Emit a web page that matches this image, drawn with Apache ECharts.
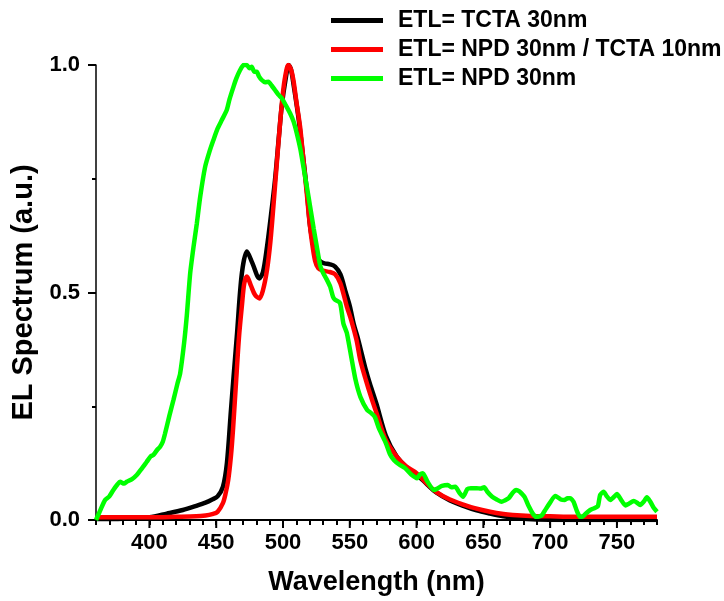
<!DOCTYPE html>
<html>
<head>
<meta charset="utf-8">
<script src="https://cdn.jsdelivr.net/npm/echarts@6/dist/echarts.min.js"></script>
<style>
  html, body { margin: 0; padding: 0; background: #fff; }
  #chart { width: 724px; height: 601px; }
</style>
</head>
<body>
<div id="chart"></div>
<script>
// Electroluminescence spectra for three electron-transport layers

const seriesNames = [
  'ETL= TCTA 30nm',
  'ETL= NPD 30nm / TCTA 10nm',
  'ETL= NPD 30nm'
];

// TCTA 30nm
const wlTCTA = [360, 380, 400, 413, 425, 435, 442, 447, 451, 455, 458, 461, 463, 465.4, 469.2, 473, 477, 482.3, 485, 488,
  491, 494, 497, 499, 502, 504.3, 506, 508, 511.5, 515, 518, 520.3, 523, 525, 528, 531, 535, 539, 543, 547,
  550, 553, 556, 559, 562, 565, 570, 577, 585, 593, 600, 608, 615, 625, 635, 645, 655, 665, 675, 690,
  710, 740, 780];
const elTCTA = [0.002, 0.003, 0.006, 0.014, 0.022, 0.031, 0.038, 0.045, 0.052, 0.073, 0.125, 0.24, 0.315, 0.403, 0.542, 0.59, 0.565, 0.531, 0.545, 0.6,
  0.67, 0.747, 0.845, 0.908, 0.97, 1.0, 0.99, 0.955, 0.886, 0.8, 0.72, 0.645, 0.6, 0.579, 0.568, 0.564, 0.562, 0.557, 0.54, 0.5,
  0.47, 0.43, 0.4, 0.365, 0.33, 0.3, 0.255, 0.185, 0.14, 0.115, 0.1, 0.078, 0.06, 0.043, 0.031, 0.021, 0.014, 0.008, 0.004, 0.001,
  0.0, 0.0, 0.0];

// NPD 30nm / TCTA 10nm
const wlNPDTCTA = [360, 380, 400, 420, 435, 442, 447, 451, 455, 457, 459, 461, 462.6, 465, 467, 469.2, 471, 473, 476, 479,
  482.3, 485, 488, 490.5, 492.8, 495, 497.8, 500, 501.6, 504, 506, 507.8, 510, 512.8, 515, 517.8, 519.5, 521.5, 524, 526.5,
  530, 535, 539, 543, 547.8, 551, 555, 558, 562, 566, 570, 577, 585, 592, 600, 607, 614.6, 625, 635, 643.5,
  655, 665, 672, 685, 700, 720, 750, 780];
const elNPDTCTA = [0.006, 0.006, 0.006, 0.007, 0.008, 0.01, 0.013, 0.018, 0.037, 0.058, 0.088, 0.14, 0.2, 0.31, 0.4, 0.47, 0.52, 0.535, 0.515, 0.495,
  0.487, 0.505, 0.549, 0.61, 0.689, 0.77, 0.872, 0.94, 0.974, 1.0, 0.99, 0.967, 0.92, 0.864, 0.8, 0.718, 0.665, 0.615, 0.57, 0.553,
  0.548, 0.545, 0.54, 0.52, 0.469, 0.44, 0.396, 0.35, 0.308, 0.27, 0.235, 0.176, 0.14, 0.118, 0.103, 0.082, 0.062, 0.045, 0.034, 0.026,
  0.018, 0.013, 0.011, 0.009, 0.008, 0.007, 0.007, 0.007];

// NPD 30nm
const wlNPD = [360, 363, 366.8, 370, 373, 376, 378, 381, 383, 387, 390.5, 394, 398, 401, 403, 406, 408, 410, 411.7, 415,
  418, 421, 423, 426, 428, 430.5, 433, 435.5, 438, 441.7, 445, 447.9, 451, 454.2, 457.9, 460, 462.9, 465, 467.9, 470.5,
  472.9, 475, 476.6, 478.5, 480.4, 482, 484.1, 486.5, 489.1, 491.5, 494, 496.5, 499.1, 502, 505.3, 508, 510.3, 513, 515.3, 518,
  520.3, 523, 525.3, 527.8, 530.2, 532.5, 535.3, 537.5, 539, 542.7, 545.2, 547.8, 551, 554.3, 558, 563, 566, 568.7, 572, 577,
  580, 583, 587, 591.4, 596, 600.4, 602.5, 604.7, 608, 613, 616, 619, 623.4, 626, 629, 632, 634.8, 638, 640.7, 645,
  648, 650.6, 653, 656.6, 660, 663.7, 666, 669, 672, 674.5, 677, 679, 681, 684, 687, 689.5, 692, 694, 697, 699.7,
  703.7, 705.2, 708, 711, 713, 715, 717.5, 720, 722.4, 724, 727, 730, 733, 735.7, 737.4, 740, 742.5, 745, 747.5, 750,
  753, 756.4, 759, 762.6, 765, 767.4, 770, 772.4, 775, 777.5, 780];
const elNPD = [0.0, 0.02, 0.044, 0.052, 0.066, 0.078, 0.084, 0.08, 0.084, 0.09, 0.099, 0.112, 0.128, 0.14, 0.143, 0.155, 0.161, 0.172, 0.19, 0.23,
  0.264, 0.3, 0.322, 0.39, 0.45, 0.542, 0.6, 0.652, 0.71, 0.776, 0.81, 0.835, 0.86, 0.879, 0.901, 0.925, 0.952, 0.97, 0.989, 1.0,
  1.0, 0.993, 0.996, 0.985, 0.985, 0.975, 0.967, 0.962, 0.963, 0.955, 0.945, 0.935, 0.927, 0.912, 0.894, 0.875, 0.85, 0.815, 0.776, 0.73,
  0.689, 0.64, 0.601, 0.56, 0.542, 0.53, 0.513, 0.49, 0.484, 0.477, 0.432, 0.411, 0.36, 0.308, 0.27, 0.242, 0.235, 0.227, 0.2, 0.169,
  0.145, 0.132, 0.122, 0.114, 0.1, 0.092, 0.1, 0.103, 0.085, 0.066, 0.07, 0.075, 0.077, 0.072, 0.073, 0.06, 0.051, 0.068, 0.07, 0.07,
  0.069, 0.072, 0.062, 0.051, 0.045, 0.04, 0.043, 0.048, 0.06, 0.066, 0.063, 0.057, 0.05, 0.03, 0.014, 0.007, 0.008, 0.011, 0.025, 0.037,
  0.053, 0.051, 0.045, 0.044, 0.048, 0.048, 0.04, 0.02, 0.007, 0.007, 0.015, 0.022, 0.026, 0.03, 0.055, 0.062, 0.052, 0.044, 0.05, 0.057,
  0.045, 0.032, 0.036, 0.042, 0.038, 0.033, 0.04, 0.05, 0.04, 0.027, 0.018];

// Axis ticks: labelled majors every 50 nm, minors every 10 nm from the axis start
const xLabelValues = [400, 450, 500, 550, 600, 650, 700, 750];
const xMin = 360;
const xMax = 780;
const xMinorStep = 10;

const pairs = (xs, ys) => xs.map((x, i) => [x, ys[i]]);

const FONT = '"Liberation Sans", Arial, sans-serif';
const colors = ['#000000', '#ff0000', '#00ff00'];

const chart = echarts.init(document.getElementById('chart'), null, { renderer: 'canvas' });

const lineSeries = (name, data, color, smooth) => ({
  name: name,
  type: 'line',
  data: data,
  showSymbol: false,
  smooth: smooth,
  color: color,
  lineStyle: { color: color, width: 4.5 },
  animation: false
});

chart.setOption({
  animation: false,
  grid: { left: 96, right: 67, top: 65, bottom: 81, containLabel: false },
  legend: {
    orient: 'vertical',
    left: 331,
    top: 6,
    padding: 0,
    itemGap: 0,
    itemWidth: 52,
    itemHeight: 5,
    icon: 'rect',
    data: seriesNames,
    textStyle: {
      fontFamily: FONT,
      fontWeight: 'bold',
      fontSize: 23,
      color: '#000',
      lineHeight: 29,
      padding: [0, 0, 0, 10]
    }
  },
  xAxis: {
    type: 'value',
    min: xMin,
    max: xMax,
    interval: xMinorStep,
    name: 'Wavelength (nm)',
    nameLocation: 'middle',
    nameGap: 49,
    nameTextStyle: { fontFamily: FONT, fontWeight: 'bold', fontSize: 27, color: '#000' },
    axisLine: { show: true, onZero: false, lineStyle: { color: '#000', width: 2 } },
    axisTick: { show: true, inside: false, length: 5, lineStyle: { color: '#000', width: 2 } },
    axisLabel: {
      margin: 12,
      formatter: v => (xLabelValues.indexOf(v) >= 0 ? String(v) : ''),
      fontFamily: FONT, fontWeight: 'bold', fontSize: 22, color: '#000'
    },
    splitLine: { show: false }
  },
  yAxis: {
    type: 'value',
    min: 0,
    max: 1,
    interval: 0.5,
    name: 'EL Spectrum (a.u.)',
    nameLocation: 'middle',
    nameGap: 54,
    nameTextStyle: { fontFamily: FONT, fontWeight: 'bold', fontSize: 29, color: '#000' },
    axisLine: { show: true, onZero: false, lineStyle: { color: '#000', width: 1.5 } },
    axisTick: { show: true, inside: false, length: 8, lineStyle: { color: '#000', width: 2 } },
    minorTick: { show: true, splitNumber: 2, length: 4, lineStyle: { color: '#000', width: 2 } },
    axisLabel: {
      margin: 16,
      formatter: v => v.toFixed(1),
      fontFamily: FONT, fontWeight: 'bold', fontSize: 22, color: '#000'
    },
    splitLine: { show: false },
    minorSplitLine: { show: false }
  },
  series: [
    lineSeries(seriesNames[0], pairs(wlTCTA, elTCTA), colors[0], 0.3),
    lineSeries(seriesNames[1], pairs(wlNPDTCTA, elNPDTCTA), colors[1], 0.3),
    lineSeries(seriesNames[2], pairs(wlNPD, elNPD), colors[2], 0.2)
  ]
});

// Longer ticks at the labelled wavelengths, placed through the axis scales
const y0 = chart.convertToPixel({ yAxisIndex: 0 }, 0);
chart.setOption({
  graphic: xLabelValues.map(v => {
    const px = chart.convertToPixel({ xAxisIndex: 0 }, v);
    return {
      type: 'line',
      silent: true,
      z: 10,
      shape: { x1: px, y1: y0, x2: px, y2: y0 + 8 },
      style: { stroke: '#000', lineWidth: 2 }
    };
  })
});
</script>
</body>
</html>
